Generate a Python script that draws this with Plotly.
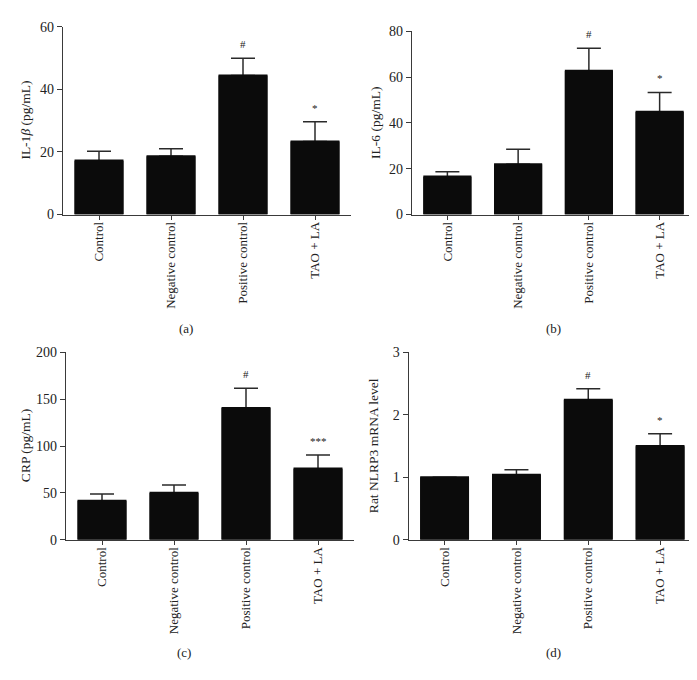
import plotly.graph_objects as go

categories = ["Control", "Negative control", "Positive control", "TAO + LA"]

il1b_mean = [17.2, 18.6, 44.4, 23.3]
il1b_err = [3.0, 2.4, 5.5, 6.3]
il1b_sig = ["", "", "#", "*"]

il6_mean = [16.5, 21.9, 62.7, 44.8]
il6_err = [2.2, 6.6, 9.9, 8.5]
il6_sig = ["", "", "#", "*"]

crp_mean = [41.7, 50.1, 140.6, 75.9]
crp_err = [7.3, 8.3, 21.2, 14.6]
crp_sig = ["", "", "#", "***"]

nlrp3_mean = [1.0, 1.04, 2.24, 1.50]
nlrp3_err = [0.0, 0.08, 0.18, 0.20]
nlrp3_sig = ["", "", "#", "*"]

panels = [
    dict(mean=il1b_mean, err=il1b_err, sig=il1b_sig, rng=[0, 60], dtick=20,
         title="IL-1<i>β</i> (pg/mL)", label="(a)",
         xpx=(55, 343), ypx=(12, 204), title_x=18, label_pos=(178, 321)),
    dict(mean=il6_mean, err=il6_err, sig=il6_sig, rng=[0, 80], dtick=20,
         title="IL-6 (pg/mL)", label="(b)",
         xpx=(404, 687), ypx=(16.7, 204), title_x=368, label_pos=(545, 321)),
    dict(mean=crp_mean, err=crp_err, sig=crp_sig, rng=[0, 200], dtick=50,
         title="CRP (pg/mL)", label="(c)",
         xpx=(58, 346), ypx=(345, 536.7), title_x=17, label_pos=(176, 652)),
    dict(mean=nlrp3_mean, err=nlrp3_err, sig=nlrp3_sig, rng=[0, 3], dtick=1,
         title="Rat NLRP3 mRNA level", label="(d)",
         xpx=(400.7, 688), ypx=(345, 536.7), title_x=365, label_pos=(545, 652)),
]

W, H = 697, 680
FONT = "Liberation Serif, Times New Roman, serif"
AX = "#3a3a3a"
BAR = "#0b0b0b"

fig = go.Figure()
annotations = []
layout = {}
for i, p in enumerate(panels):
    n = "" if i == 0 else str(i + 1)
    xa, ya = "x" + n, "y" + n
    fig.add_trace(go.Bar(
        x=categories, y=p["mean"], xaxis=xa, yaxis=ya, width=0.68,
        marker=dict(color=BAR, line=dict(width=0)),
        error_y=dict(type="data", array=p["err"], arrayminus=[0] * 4, symmetric=False,
                     color="#2a2a2a", thickness=1.5, width=12),
        showlegend=False,
    ))
    # cover layer hiding the lower cap of each error bar
    fig.add_trace(go.Bar(
        x=categories, y=[v + 0.006 * p["rng"][1] for v in p["mean"]], xaxis=xa, yaxis=ya,
        width=0.68, marker=dict(color=BAR, line=dict(width=0)), showlegend=False,
        hoverinfo="skip",
    ))
    x0, x1 = p["xpx"]
    y0, y1 = p["ypx"]
    layout["xaxis" + n] = dict(
        domain=[x0 / W, x1 / W], anchor=ya, type="category", range=[-0.5, 3.5],
        showline=True, linecolor=AX, linewidth=1.3, ticks="outside", ticklen=4,
        tickcolor=AX, tickwidth=1.2, tickangle=-90, showgrid=False,
        ticklabelstandoff=-3,
        tickfont=dict(family=FONT, size=13, color="#222"),
    )
    layout["yaxis" + n] = dict(
        domain=[1 - y1 / H, 1 - y0 / H], anchor=xa, range=p["rng"], dtick=p["dtick"],
        showline=True, linecolor=AX, linewidth=1.3, ticks="outside", ticklen=5,
        tickcolor=AX, tickwidth=1.2, showgrid=False, zeroline=False,
        tickfont=dict(family=FONT, size=14, color="#222"),
    )
    for c, m, e, s in zip(categories, p["mean"], p["err"], p["sig"]):
        if s:
            annotations.append(dict(
                x=c, y=m + e, xref=xa, yref=ya, text=s, showarrow=False,
                yanchor="bottom", yshift=6, font=dict(family=FONT, size=11, color="#222"),
            ))
    annotations.append(dict(
        x=p["title_x"] / W, y=1 - ((y0 + y1) / 2) / H, xref="paper", yref="paper",
        text=p["title"], textangle=-90, showarrow=False, xanchor="center", yanchor="middle",
        font=dict(family=FONT, size=13.5, color="#222"),
    ))
    annotations.append(dict(
        x=p["label_pos"][0] / W, y=1 - p["label_pos"][1] / H, xref="paper", yref="paper",
        text=p["label"], showarrow=False, xanchor="center", yanchor="middle",
        font=dict(family=FONT, size=13, color="#222"),
    ))

fig.update_layout(
    width=W, height=H, margin=dict(l=0, r=0, t=0, b=0),
    plot_bgcolor="white", paper_bgcolor="white", barmode="overlay",
    annotations=annotations, **layout,
)
fig.write_html("out.html")
